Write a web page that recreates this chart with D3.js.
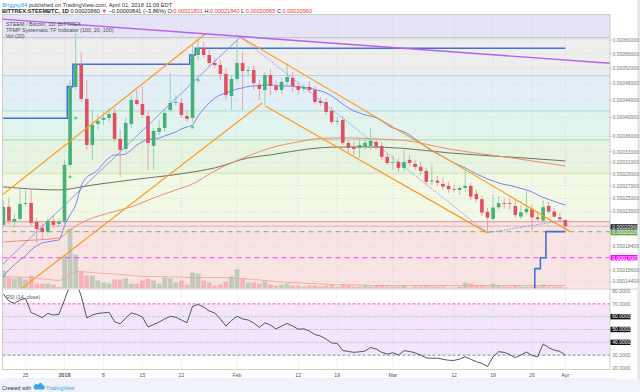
<!DOCTYPE html>
<html><head><meta charset="utf-8">
<script src="https://cdn.jsdelivr.net/npm/d3@7/dist/d3.min.js"></script>
<style>
html,body{margin:0;padding:0;background:#fff;overflow:hidden}
svg{display:block;font-family:"Liberation Sans",Arial,sans-serif}
</style></head><body>
<svg id="chart" width="640" height="392"></svg>
<script>
// ================= DATA (prices in satoshi, 1e-8 BTC) =================
const firstDay = "2017-12-21", lastDay = "2018-04-01";
const open = [21140,23700,21550,21960,24140,24290,21550,20730,20200,21680,21280,
 21550,30570,47180,52890,44270,34330,38640,39500,39940,41040,35520,33550,38640,44030,43090,40370,34140,36940,37780,41710,43330,43330,40370,39940,55660,57660,55660,53440,52890,50500,44980,
 49190,53440,51300,51560,47680,46440,50240,47430,46440,48440,49460,47430,46690,47180,46440,43800,43560,41490,39170,39500,34730,33940,33750,33940,34140,34920,34140,32040,
 31020,31120,30040,31480,30750,30210,29510,27710,27840,27300,26970,26480,26320,26640,26970,25690,24860,22970,21960,23650,24250,24250,23840,22290,22920,23410,22190,21730,23840,23010,22190,
 21801];
const high = [24750,25060,22680,26810,26320,26320,22100,21280,22100,22530,22100,
 31480,48940,62110,56510,48940,41710,40590,41260,42170,42170,37360,39940,45220,46440,47180,41710,37780,39500,41710,50770,45220,44510,41710,58530,60590,59410,57080,54820,54260,52090,50240,
 60000,56510,52620,52890,48940,51030,51560,48940,49460,53440,51030,48440,47930,48690,47430,44740,44510,42400,40150,40370,35320,34920,35720,35320,37780,35720,34920,32600,
 32410,31850,33360,32410,31480,31120,30040,30570,28650,28300,27630,27130,26970,29680,27460,26320,25370,23550,25530,25370,25060,25060,24750,23990,26320,23990,22970,24750,24450,23550,22820,
 21840];
const low = [20730,21280,20730,21550,23840,21000,18790,19160,19810,20730,20870,
 21280,30040,46440,43560,33360,31480,37360,38420,39070,35120,28480,32980,37780,42630,39940,29680,29680,36320,36940,41260,42630,39940,39070,39070,54260,54820,52620,52090,48940,44030,41710,
 48440,41710,49980,46440,44030,42860,45220,45710,45470,47680,45950,45220,45950,45710,42860,42630,40590,38420,38420,34330,32980,32410,31850,33360,33360,33360,31480,30570,
 29680,29340,29340,30390,29680,28820,27130,27130,26970,26320,25850,26000,25530,26000,24750,24450,22390,20070,21680,23260,23410,23260,22100,21960,22530,20200,21550,21410,22680,22100,21680,
 20565];
const close = [23700,21680,21960,24140,24290,21410,20600,20200,21680,21140,21550,
 30570,47180,52890,44270,34330,38420,39280,39940,40810,35520,33360,38850,44030,43090,40590,34730,37150,37780,41040,43330,43560,40590,39720,55660,57660,55660,53440,52890,50500,45220,49190,
 53440,51300,51560,48180,46690,50240,47430,46440,48440,49720,47430,46440,47180,46440,43560,43330,41260,39070,39280,34730,33750,33550,34330,34730,35120,33940,32040,30930,
 31120,30040,31120,30930,30210,29510,27630,27880,27510,26860,26430,26380,26640,26970,25270,24860,22860,22140,23600,24250,24140,24140,22530,22920,23410,22190,21920,23650,23010,22290,21920,
 20960];
const volume = [180,110,100,110,90,130,50,50,50,40,15,
 330,600,340,170,130,130,80,60,50,90,90,100,50,50,80,100,80,50,110,100,60,80,40,160,150,80,60,30,40,70,120,
 190,100,60,60,50,70,40,30,40,50,30,30,20,30,30,20,30,40,20,40,30,20,20,30,20,30,30,20,
 20,20,30,10,20,20,30,20,20,20,10,10,20,60,50,30,30,20,50,30,20,20,30,20,20,20,20,40,20,20,20,
 10];
const volumeMA = [120,120,115,115,110,110,100,95,90,85,80,
 100,150,170,170,165,160,155,150,150,145,140,135,130,125,120,120,120,120,120,115,115,115,110,110,110,110,110,110,110,110,105,
 100,100,95,90,85,80,75,70,65,60,60,55,55,50,50,45,45,40,40,40,35,35,35,35,30,30,30,30,
 30,30,30,30,30,30,30,30,30,30,30,30,30,30,30,30,30,30,30,30,30,30,30,30,30,30,30,30,30,30,30,
 30];
const rsi = [77.7,72.2,70.4,73.0,74.3,63.2,61.3,59.3,62.5,61.3,61.8,
 73,85,88,76,59,61.3,62.5,63,63.4,56.1,54.3,59,62.9,61.7,59.7,52,53.9,55.8,58.2,60.3,59.5,57.4,55.3,68,69.5,67.5,64.4,62.9,58.2,52.7,57,
 60.3,58.2,57.4,55.1,51.6,55.2,53.5,50.4,52.7,54.7,52.7,50.2,50.5,48.8,46.1,44.9,42.6,39.5,39.2,33.6,32.9,32.2,32.6,33.2,36,34.8,32.2,30.9,
 31.9,30.1,33.5,32.9,31.8,30.1,27.8,27.6,27.6,26.8,26,25.9,27,28.8,26.8,24.9,23.5,21.2,28.6,32.7,32.2,30.5,28,30.1,32.5,29.7,28.8,38.7,35.8,33.9,32.9,
 30.1];
const maBlue = [14890,15640,16200,16760,17220,17930,18420,18790,18910,19040,19160,
 21000,22530,23990,26970,28470,28990,29680,30930,31850,32410,32410,32600,33360,34330,34920,35520,35520,35720,36120,36530,36940,37570,37990,38420,40370,41940,43330,44510,45220,45710,46200,
 46690,46940,47310,47430,47560,47680,47680,47560,47430,47430,47310,47180,47060,46940,46560,46200,45710,44980,44030,43090,42170,41490,41040,40590,40370,39940,39280,38420,
 37780,37360,36940,36320,35520,34730,33940,33170,32600,32040,31480,30930,30480,30040,29510,28990,28560,28130,27790,27460,27210,27050,26810,26560,26320,26000,25530,25140,24830,24520,24220,
 23990];
const maSalmon = [["2017-12-21",18910],["2017-12-24",19040],["2017-12-31",19410],["2018-01-02",20460],["2018-01-04",21410],["2018-01-09",22820],["2018-01-13",23700],["2018-01-17",25060],["2018-01-21",26320],["2018-01-24",27300],["2018-01-28",29510],["2018-01-31",30930],["2018-02-03",32220],["2018-02-07",33750],["2018-02-12",34920],["2018-02-16",35620],["2018-02-21",35720],["2018-02-26",35520],["2018-03-03",35220],["2018-03-11",33560],["2018-03-23",31750],["2018-04-01",30390]];
const maGray = [["2017-12-21",26810],["2017-12-31",26320],["2018-01-02",26480],["2018-01-04",26810],["2018-01-13",27960],["2018-01-23",29160],["2018-01-28",30040],["2018-02-03",31850],["2018-02-07",32410],["2018-02-12",33270],["2018-02-18",33880],["2018-02-24",33940],["2018-03-03",33650],["2018-03-11",32790],["2018-03-23",31950],["2018-04-01",31300]];
const stopUpper = [["2017-12-21",39860],["2018-01-02",47260],["2018-01-03",53090],["2018-01-24",55660],["2018-01-25",57570],["2018-04-01",57570]];
const stopLower = [["2018-03-26",12000],["2018-03-27",15780],["2018-03-28",17007],["2018-03-29",20229],["2018-04-01",20229]];
const zoneLevels = [60690,50060,41490,35320,29110,21590];
const supportLevel = 20229, targetLevel = 17007, lastPrice = 20960;
const trendOrange = [
  [["2017-12-20T10:00Z",25220],["2018-01-26T07:00Z",61810]],
  [["2017-12-23T11:00Z",13370],["2018-02-05T13:00Z",43330]],
  [["2018-02-01T14:00Z",60900],["2018-04-01T22:00Z",20200]],
  [["2018-02-06T02:00Z",42630],["2018-03-18T00:00Z",20070]]];
const trendPurple = [["2017-12-20T10:00Z",66510],["2018-04-09T02:00Z",53350]];
const zigzag = [["2017-12-20T10:00Z",15980],["2018-02-01T14:00Z",60900],["2018-03-18T00:00Z",20070],["2018-04-01T00:00Z",21820]];
const signals = [["2018-01-02",28480],["2018-01-03",39930],["2018-01-24",37990],["2018-01-25",48940]];
const priceTicks = [60000,56000,52000,48000,44000,40000,36000,33000,31000,29000,27000,25000,23000,18400,15600,14400];
const rsiTicks = [80,70,60,50,40,30,20];
const rsiBoxed = [60,50,40];
const timeTicks = [["2017-12-25","25"],["2018-01-01","2018"],["2018-01-08","8"],["2018-01-15","15"],["2018-01-22","22"],["2018-02-01","Feb"],["2018-02-12","12"],["2018-02-19","19"],["2018-03-01","Mar"],["2018-03-12","12"],["2018-03-19","19"],["2018-03-26","26"],["2018-04-01","Apr"]];

// ================= STYLES =================
const zoneFills = ["#e5e3f6","#eeeeef","#e3eff7","#e3f4ee","#e6f4e1","#f1f8e5","#f9e4e4"];
const zoneLines = ["#bdbdcb","#b9cddb","#a9dccf","#a3da9b","#d2e4ad","#e9a3a3"];
const UP="#44b07a", DN="#e2505f", UPW="#8fcfaa", DNW="#eb9aa3";

// ================= SETUP =================
const pd = s => new Date(s.length===10 ? s+"T00:00:00Z" : s);
const days = d3.utcDay.range(pd(firstDay), d3.utcDay.offset(pd(lastDay),1));
const pane = {l:2.5, r:610, t:14.5, b:288.5};
const rp = {t:289.5, b:369.5};
const x = d3.scaleUtc().domain([pd(firstDay), pd(lastDay)]).range([3.3, 565.4]);
const y = d3.scalePow().exponent(0.25).domain([17007, 60000]).range([257.7, 40]);
const yv = d3.scaleLinear().domain([0, 600]).range([pane.b, pane.b-60]);
const yr = d3.scaleLinear().domain([20, 80]).range([368, 291]);
const halfDay = (x(days[1]) - x(days[0]))/2;
const fmt = v => (v/1e8).toFixed(8);

const svg = d3.select("#chart");
svg.append("rect").attr("width",640).attr("height",392).attr("fill","#fff");
const defs = svg.append("defs");
defs.append("clipPath").attr("id","cm").append("rect").attr("x",pane.l).attr("y",pane.t).attr("width",pane.r-pane.l).attr("height",pane.b-pane.t);
defs.append("clipPath").attr("id","cr").append("rect").attr("x",pane.l).attr("y",rp.t).attr("width",pane.r-pane.l).attr("height",rp.b-rp.t);

// ---- main pane ----
const m = svg.append("g").attr("clip-path","url(#cm)");
const bounds = [pane.t, ...zoneLevels.map(v=>y(v)), pane.b];
m.selectAll("rect.zone").data(zoneFills).join("rect")
 .attr("x",pane.l).attr("width",pane.r-pane.l)
 .attr("y",(d,i)=>bounds[i]).attr("height",(d,i)=>bounds[i+1]-bounds[i]).attr("fill",d=>d);
m.selectAll("line.vg").data(timeTicks).join("line")
 .attr("x1",d=>x(pd(d[0]))).attr("x2",d=>x(pd(d[0]))).attr("y1",pane.t).attr("y2",pane.b)
 .attr("stroke","#cfcfcf").attr("stroke-dasharray","1,2").attr("stroke-width",0.6);
m.selectAll("line.hg").data(priceTicks).join("line")
 .attr("x1",pane.l).attr("x2",pane.r).attr("y1",d=>y(d)).attr("y2",d=>y(d))
 .attr("stroke","#cfcfcf").attr("stroke-dasharray","1,2").attr("stroke-width",0.6);
m.selectAll("line.zl").data(zoneLevels).join("line")
 .attr("x1",pane.l).attr("x2",pane.r).attr("y1",d=>y(d)).attr("y2",d=>y(d))
 .attr("stroke",(d,i)=>zoneLines[i]).attr("stroke-width",(d,i)=>i===5?1.4:1);
const idx = d3.range(days.length);
m.selectAll("rect.vol").data(idx).join("rect")
 .attr("x",i=>x(days[i])-2.4).attr("width",4.8)
 .attr("y",i=>yv(volume[i])).attr("height",i=>pane.b-yv(volume[i]))
 .attr("fill",i=>close[i]>=open[i]?"#7fae8a":"#ef7a85").attr("opacity",0.45);
m.append("path").datum(idx).attr("fill","none").attr("stroke","#f3a07e").attr("stroke-width",0.9).attr("opacity",0.85)
 .attr("d",d3.line().x(i=>x(days[i])).y(i=>yv(volumeMA[i])));
m.append("line").attr("x1",pane.l).attr("x2",pane.r).attr("y1",y(lastPrice)).attr("y2",y(lastPrice))
 .attr("stroke","#c9a2a2").attr("stroke-width",0.7);
m.append("line").attr("x1",pane.l).attr("x2",pane.r).attr("y1",y(supportLevel)).attr("y2",y(supportLevel))
 .attr("stroke","#94bf82").attr("stroke-width",1.1).attr("stroke-dasharray","5,4");
m.append("line").attr("x1",pane.l).attr("x2",pane.r).attr("y1",y(targetLevel)).attr("y2",y(targetLevel))
 .attr("stroke","#ff3cff").attr("stroke-width",1.1).attr("stroke-dasharray","5,4");
const ptLine = d3.line().x(d=>x(pd(d[0]))).y(d=>y(d[1])).curve(d3.curveMonotoneX);
m.append("path").datum(maGray).attr("fill","none").attr("stroke","#6f6f62").attr("stroke-width",1).attr("d",ptLine);
m.append("path").datum(maSalmon).attr("fill","none").attr("stroke","#ee8b7c").attr("stroke-width",1).attr("d",ptLine);
m.append("path").datum(idx).attr("fill","none").attr("stroke","#7b83eb").attr("stroke-width",1)
 .attr("d",d3.line().x(i=>x(days[i])).y(i=>y(maBlue[i])).curve(d3.curveMonotoneX));
function stepPath(arr){
  const n=arr.length;
  return d3.line().x((d,i)=>x(pd(d[0]))-(i>0&&i<n-1?halfDay:0)).y(d=>y(d[1])).curve(d3.curveStepAfter)(arr);
}
[stopUpper, stopLower].forEach(s=>m.append("path").attr("fill","none").attr("stroke","#4070d8").attr("stroke-width",1.6).attr("d",stepPath(s)));
m.selectAll("line.wick").data(idx).join("line")
 .attr("x1",i=>x(days[i])).attr("x2",i=>x(days[i])).attr("y1",i=>y(high[i])).attr("y2",i=>y(low[i]))
 .attr("stroke",i=>close[i]>=open[i]?UPW:DNW).attr("stroke-width",0.9);
m.selectAll("rect.body").data(idx).join("rect")
 .attr("x",i=>x(days[i])-1.8).attr("width",3.6)
 .attr("y",i=>y(Math.max(open[i],close[i])))
 .attr("height",i=>Math.max(0.8,Math.abs(y(open[i])-y(close[i]))))
 .attr("fill",i=>close[i]>=open[i]?UP:DN);
const tl = d3.line().x(d=>x(pd(d[0]))).y(d=>y(d[1]));
trendOrange.forEach(t=>m.append("path").attr("fill","none").attr("stroke","#ff9a1f").attr("stroke-width",1.2).attr("d",tl(t)));
m.append("path").attr("fill","none").attr("stroke","#b45ff0").attr("stroke-width",1.4).attr("d",tl(trendPurple));
m.append("path").attr("fill","none").attr("stroke","#7c80ee").attr("stroke-width",0.8).attr("d",tl(zigzag.slice(0,2)));
m.append("path").attr("fill","none").attr("stroke","#7c80ee").attr("stroke-width",0.8).attr("stroke-dasharray","1.5,1.2").attr("d",tl(zigzag.slice(1)));
m.selectAll("circle.sig").data(signals).join("circle")
 .attr("cx",d=>x(pd(d[0]))).attr("cy",d=>y(d[1])).attr("r",1.5).attr("fill","#3fe060");
const leg = ["STEEM / Bitcoin, 1D, BITTREX","TFMP Systematic TF Indicator (100, 20, 100)","Vol (20)"];
m.selectAll("text.leg").data(leg).join("text").attr("x",6).attr("y",(d,i)=>25.8+i*6)
 .attr("font-size",5.4).attr("fill","#4d4d4d").text(d=>d);

// ---- RSI pane ----
const r = svg.append("g").attr("clip-path","url(#cr)");
r.append("rect").attr("x",pane.l).attr("width",pane.r-pane.l).attr("y",yr(70)).attr("height",yr(30)-yr(70)).attr("fill","#f3e6fb");
r.selectAll("line.vg").data(timeTicks).join("line")
 .attr("x1",d=>x(pd(d[0]))).attr("x2",d=>x(pd(d[0]))).attr("y1",rp.t).attr("y2",rp.b)
 .attr("stroke","#d4d4d4").attr("stroke-dasharray","1,2").attr("stroke-width",0.6);
const rl = [[70,"#f05a5a","3,2"],[60,"#9f98a8","1,2"],[50,"#9f98a8","1,2"],[40,"#9f98a8","1,2"],[30,"#708f70","3,2"]];
r.selectAll("line.rl").data(rl).join("line").attr("x1",pane.l).attr("x2",pane.r)
 .attr("y1",d=>yr(d[0])).attr("y2",d=>yr(d[0])).attr("stroke",d=>d[1]).attr("stroke-dasharray",d=>d[2]).attr("stroke-width",0.9);
r.append("path").datum(idx).attr("fill","none").attr("stroke","#4b3f55").attr("stroke-width",0.9)
 .attr("d",d3.line().x(i=>x(days[i])).y(i=>yr(rsi[i])));
r.append("text").attr("x",6).attr("y",298.8).attr("font-size",5.2).attr("fill","#555").text("RSI (14, close)");

// ---- borders ----
svg.append("rect").attr("x",pane.l).attr("y",pane.t).attr("width",pane.r-pane.l).attr("height",rp.b-pane.t)
 .attr("fill","none").attr("stroke","#c4c4c4").attr("stroke-width",0.8);
svg.append("line").attr("x1",pane.l).attr("x2",640).attr("y1",289).attr("y2",289).attr("stroke","#c4c4c4").attr("stroke-width",0.8);
svg.append("line").attr("x1",pane.l).attr("x2",616).attr("y1",379).attr("y2",379).attr("stroke","#d0d0d0").attr("stroke-width",0.6);
svg.append("rect").attr("x",0).attr("y",379.3).attr("width",640).attr("height",13).attr("fill","#f0f3fa");
svg.append("rect").attr("x",637.5).attr("y",0).attr("width",2.5).attr("height",379.3).attr("fill","#e3e6ec");

// ---- price axis ----
const ax = svg.append("g").attr("font-size",5);
ax.selectAll("text.pt").data(priceTicks).join("text").attr("x",612.5).attr("y",d=>y(d)+1.8).attr("fill","#777").text(fmt);
ax.selectAll("line.pt").data(priceTicks).join("line").attr("x1",610).attr("x2",611.5).attr("y1",d=>y(d)).attr("y2",d=>y(d)).attr("stroke","#999").attr("stroke-width",0.6);
const boxes = [[lastPrice,"#222222"],[supportLevel,"#6aa84f"],[targetLevel,"#ff00ff"]];
const bg = ax.selectAll("g.box").data(boxes).join("g");
bg.append("rect").attr("x",610.5).attr("width",27).attr("y",(d,i)=>y(d[0])+(i===0?0.7:i===1?1:0)-2.7).attr("height",5.4).attr("fill",d=>d[1]);
bg.append("text").attr("x",612.3).attr("y",(d,i)=>y(d[0])+(i===0?0.7:i===1?1:0)+1.8).attr("fill","#fff").text(d=>fmt(d[0]));
ax.selectAll("rect.rb").data(rsiBoxed).join("rect").attr("x",610.5).attr("width",20).attr("y",d=>yr(d)-2.7).attr("height",5.4).attr("fill","#111");
ax.selectAll("text.rt").data(rsiTicks).join("text").attr("x",612.3).attr("y",d=>yr(d)+1.8)
 .attr("fill",d=>rsiBoxed.includes(d)?"#fff":"#777").text(d=>d.toFixed(4));

// ---- time axis ----
svg.selectAll("text.tt").data(timeTicks).join("text").attr("x",d=>x(pd(d[0]))).attr("y",376.8)
 .attr("text-anchor","middle").attr("font-size",5.2).attr("fill","#555")
 .attr("font-weight",d=>d[1]==="2018"?"bold":"normal").text(d=>d[1]);

// ---- header ----
const h1 = svg.append("text").attr("x",2).attr("y",6.6).attr("font-size",5.7);
h1.append("tspan").attr("fill","#2a9df4").text("Briggsy84");
h1.append("tspan").attr("fill","#333").text(" published on TradingView.com, April 01, 2018 11:09 EDT");
const h2 = svg.append("text").attr("x",2).attr("y",12.6).attr("font-size",5.6).attr("fill","#222");
const parts = [["BITTREX:STEEMBTC, 1D ","#222","bold"],["0.00020960 ","#222","normal"],["▼","#e53935","normal"],[" −0.00000841 (−3.86%) ","#222","normal"],
 ["O:","#222","normal"],["0.00021801 ","#e53935","normal"],["H:","#222","normal"],["0.00021840 ","#e53935","normal"],
 ["L:","#222","normal"],["0.00020565 ","#e53935","normal"],["C:","#222","normal"],["0.00020960","#e53935","normal"]];
parts.forEach(p=>h2.append("tspan").attr("fill",p[1]).attr("font-weight",p[2]).text(p[0]));

// ---- footer ----
svg.append("text").attr("x",2).attr("y",389.8).attr("font-size",5.2).attr("fill","#333").text("Created with");
svg.append("path").attr("d","M35,389.5 h8 a2,2 0 0 0 0,-4 a2.6,2.6 0 0 0 -5,-0.8 a2,2 0 0 0 -3,4.8 z").attr("fill","#3ba6e8");
svg.append("text").attr("x",46).attr("y",389.8).attr("font-size",5.2).attr("fill","#3ba6e8").text("TradingView");
</script></body></html>
